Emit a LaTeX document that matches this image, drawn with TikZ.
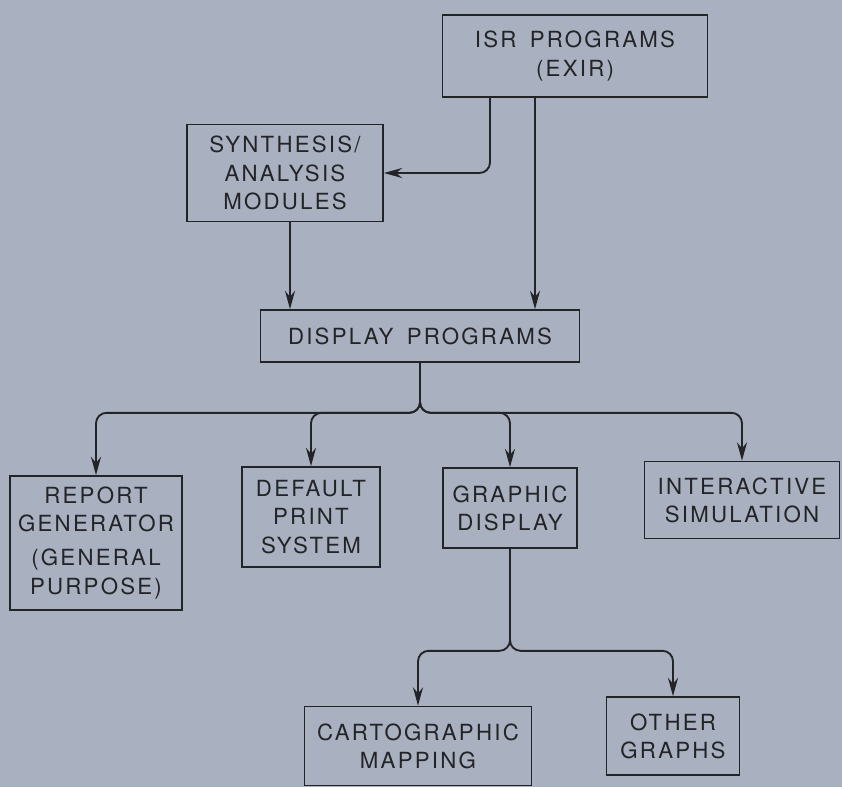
\documentclass[tikz,border=0pt]{standalone}
\usepackage{fontspec}
\setmainfont{TeX Gyre Heros}[LetterSpace=10]
\usepackage{xcolor}
\usetikzlibrary{arrows.meta}

\definecolor{paper}{HTML}{A9B1C0}
\definecolor{ink}{HTML}{232428}
\newcommand{\wsp}{\hspace{0.6em}}

\tikzset{
  box/.style={rectangle, draw=ink, line width=1.4pt, align=center, text=ink, inner sep=2pt,
    font=\fontsize{19}{24}\selectfont},
  flow/.style={draw=ink, line width=1.6pt, rounded corners=9pt, -{Stealth[length=5.5mm,width=3mm]}},
}

\begin{document}
\begin{tikzpicture}[node distance=2cm]
\fill[paper] (0,0) rectangle (25.26,-23.61);

% Nodes
\node (isr) [box, minimum width=7.95cm, minimum height=2.46cm] at (17.25,-1.68) {ISR\wsp PROGRAMS\\(EXIR)};
\node (synth) [box, minimum width=5.88cm, minimum height=2.91cm, node distance=3.51cm, below of=isr, xshift=-8.7cm] {SYNTHESIS/\\ANALYSIS\\MODULES};
\node (display) [box, minimum width=9.57cm, minimum height=1.56cm, node distance=4.89cm, below of=synth, xshift=4.05cm] {DISPLAY\wsp PROGRAMS};
\node (report) [box, minimum width=5.16cm, minimum height=4.02cm, node distance=6.21cm, below of=display, xshift=-9.72cm] {REPORT\\GENERATOR\\[5pt](GENERAL\\PURPOSE)};
\node (default) [box, minimum width=4.14cm, minimum height=3.0cm, node distance=5.43cm, below of=display, xshift=-3.27cm] {DEFAULT\\PRINT\\SYSTEM};
\node (graphic) [box, minimum width=4.02cm, minimum height=2.4cm, node distance=5.16cm, below of=display, xshift=2.7cm] {GRAPHIC\\DISPLAY};
\node (interactive) [box, minimum width=5.85cm, minimum height=2.31cm, node distance=4.92cm, below of=display, xshift=9.66cm] {INTERACTIVE\\SIMULATION};
\node (carto) [box, minimum width=6.81cm, minimum height=2.37cm, node distance=7.14cm, below of=graphic, xshift=-2.76cm] {CARTOGRAPHIC\\MAPPING};
\node (other) [box, minimum width=3.99cm, minimum height=2.34cm, node distance=6.84cm, below of=graphic, xshift=4.89cm] {OTHER\\GRAPHS};

% Junctions
\coordinate (split) at ([yshift=-1.5cm]display.south);
\coordinate (gsplit) at ([yshift=-3.06cm]graphic.south);

% Arrows
\draw[flow] ([xshift=-2.55cm]isr.south) |- (synth.east);
\draw[flow] ([xshift=-1.2cm]isr.south) -- ([xshift=-1.2cm]isr.south |- display.north);
\draw[flow] ([xshift=0.15cm]synth.south) -- ([xshift=0.15cm]synth.south |- display.north);
\draw[flow] (display.south) -- (split) -| (report.north);
\draw[flow] (display.south) -- (split) -| (default.north);
\draw[flow] (display.south) -- (split) -| (graphic.north);
\draw[flow] (display.south) -- (split) -| (interactive.north);
\draw[flow] (graphic.south) -- (gsplit) -| (carto.north);
\draw[flow] (graphic.south) -- (gsplit) -| (other.north);

\end{tikzpicture}
\end{document}
